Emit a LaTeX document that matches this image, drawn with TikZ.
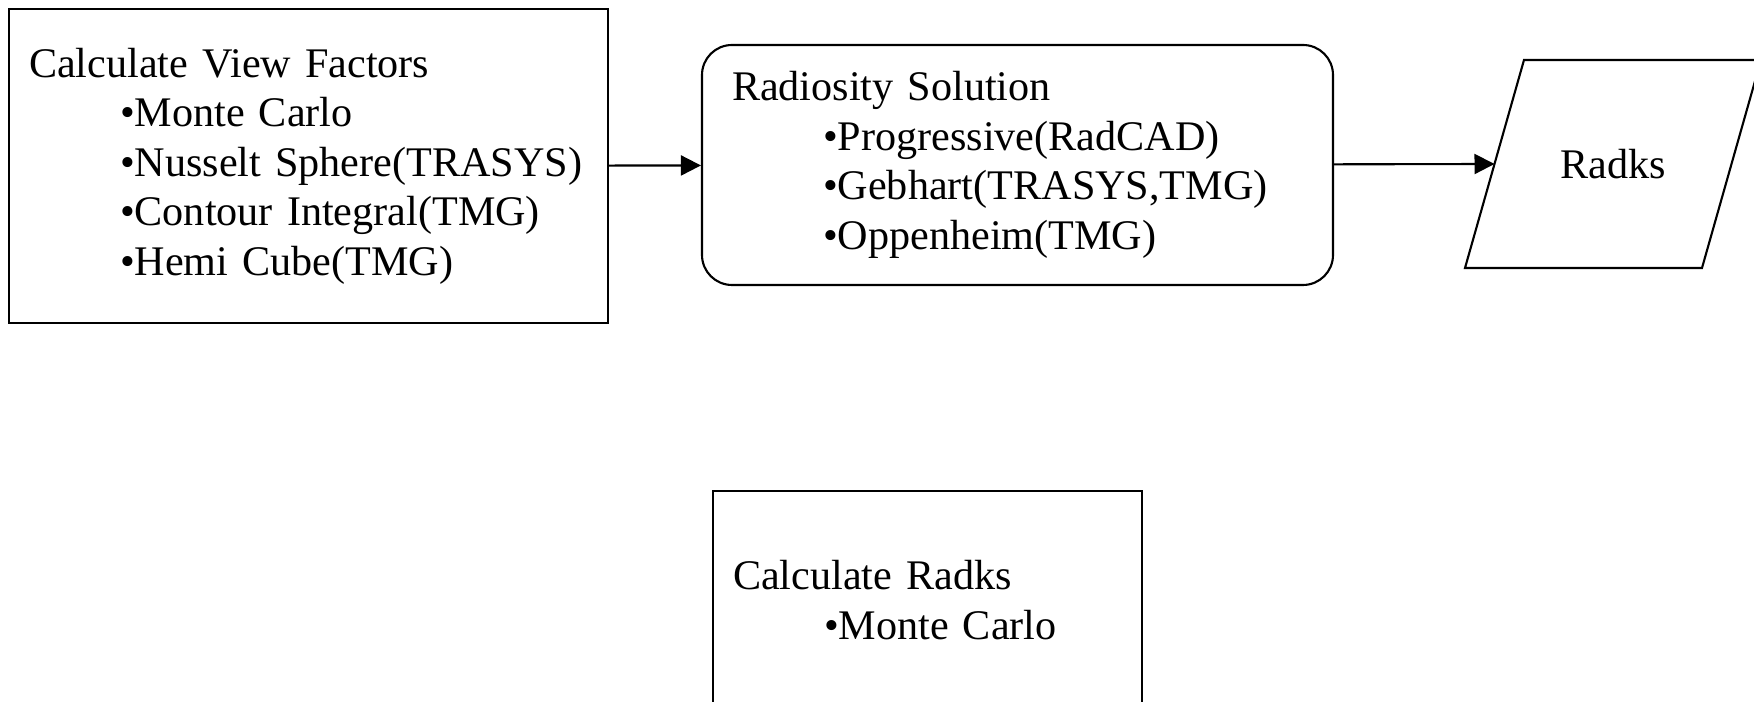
\documentclass[tikz,border=0pt]{standalone}
\usepackage{fontspec}
\setmainfont{Liberation Serif}
\usetikzlibrary{arrows.meta}

\newcommand{\itm}[1]{\hspace*{9.1mm}•#1}

\begin{document}
\begin{tikzpicture}[>={Triangle[length=2mm,width=2mm]},line width=0.6pt,line cap=round,
  font=\fontsize{12}{14.1}\selectfont,
  blockbox/.style={draw,align=left,inner ysep=0pt},
  roundbox/.style={blockbox,rounded corners=3mm}]
\useasboundingbox (0,0) rectangle (17.54,7.02);
\node[blockbox,text width=5.59cm,inner xsep=0.2cm,minimum height=3.14cm] (vf) at (3.085,5.36)
  {Calculate View Factors\\ \itm{Monte Carlo}\\ \itm{Nusselt Sphere(TRASYS)}\\
   \itm{Contour Integral(TMG)}\\ \itm{Hemi Cube(TMG)}};
\node[roundbox,text width=5.71cm,inner xsep=0.3cm,minimum height=2.4cm] (rad) at (10.175,5.37)
  {Radiosity Solution\\ \itm{Progressive(RadCAD)}\\ \itm{Gebhart(TRASYS,TMG)}\\
   \itm{Oppenheim(TMG)}};
% data shape
\node (radks) at (16.13,5.38) {Radks};
\draw ([shift={(-1.48,-1.04)}]radks.center) -- ++(2.37,0) -- ++(0.59,2.08) -- ++(-2.37,0) -- cycle;
\coordinate (radksin) at ([xshift=-1.185cm]radks.center);
\node[blockbox,text width=3.89cm,inner xsep=0.2cm,minimum height=2.18cm] (calc) at (9.275,1.02)
  {Calculate Radks\\ \itm{Monte Carlo}};
\draw[->] (vf) -- (rad);
\draw[->] (rad) -- (radksin);
\end{tikzpicture}
\end{document}
